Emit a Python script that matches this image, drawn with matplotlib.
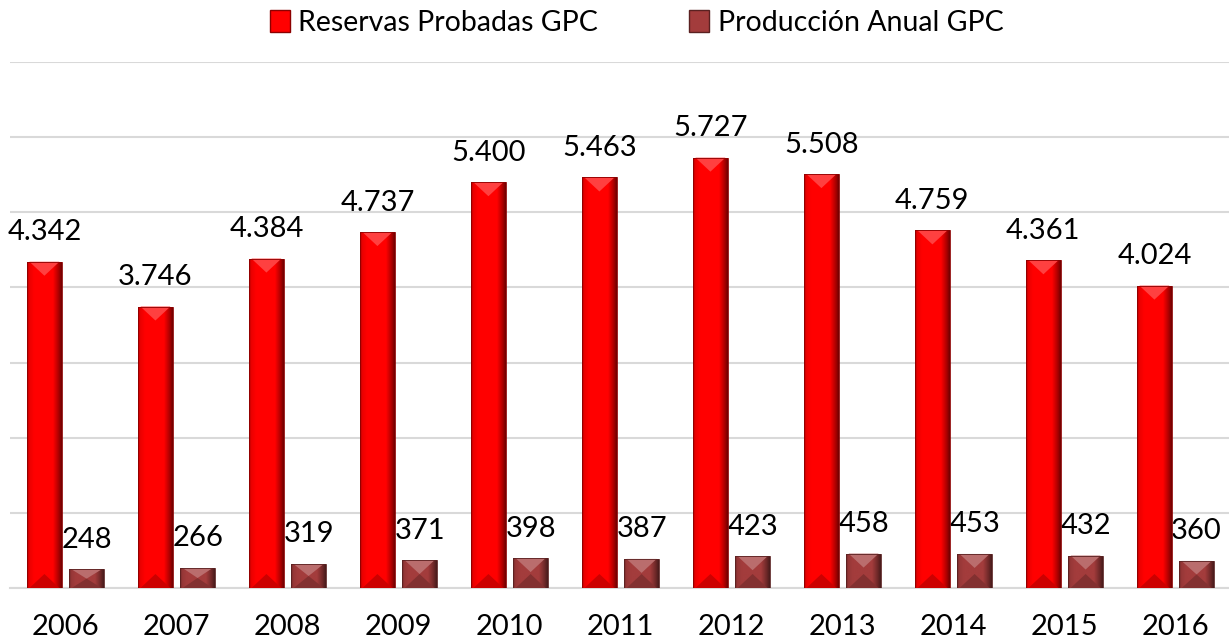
import numpy as np
import matplotlib.pyplot as plt
from matplotlib.patches import Polygon, Rectangle
from matplotlib.colors import to_rgb

years = ["2006", "2007", "2008", "2009", "2010", "2011", "2012", "2013", "2014", "2015", "2016"]
reservas = [4342, 3746, 4384, 4737, 5400, 5463, 5727, 5508, 4759, 4361, 4024]
produccion = [248, 266, 319, 371, 398, 387, 423, 458, 453, 432, 360]

plt.rcParams['font.family'] = ['Lato', 'DejaVu Sans']

fig = plt.figure(figsize=(12.29, 6.43), dpi=100)
ax = fig.add_axes([10 / 1229, 55 / 643, 1221 / 1229, 526 / 643])

x = np.arange(len(years))
width = 0.31
offset = 0.19
ymax = 7000

# pixel -> data conversion for the bevel depth
px_y = ymax / 526.0
bevel = 14 * px_y


def shade(c, f):
    c = np.array(to_rgb(c))
    if f >= 1:
        return tuple(c + (1 - c) * (f - 1))
    return tuple(c * f)


def bevel_bar(ax, xc, h, color):
    x0, x1 = xc - width / 2, xc + width / 2
    # horizontal shading: darker edges, darkest on the right
    cols = np.linspace(0, 1, 60)
    prof = np.interp(cols, [0, 0.06, 0.2, 0.75, 0.9, 1.0], [0.7, 0.92, 1.0, 1.0, 0.7, 0.45])
    base = np.array(to_rgb(color))
    img = np.clip(base[None, None, :] * prof[None, :, None], 0, 1)
    im = ax.imshow(img, extent=[x0, x1, 0, h], aspect='auto', zorder=3, interpolation='bilinear')
    clip = Rectangle((x0, 0), width, h, transform=ax.transData)
    im.set_clip_path(clip)
    d = min(bevel, h / 2)
    # top bevel lighter, bottom bevel darker
    ax.add_patch(Polygon([[x0 + 0.02, h], [x1 - 0.02, h], [xc, h - d]], closed=True,
                         facecolor=shade(color, 1.25), edgecolor='none', zorder=4))
    ax.add_patch(Polygon([[x0 + 0.02, 0], [x1 - 0.02, 0], [xc, d]], closed=True,
                         facecolor=shade(color, 0.8), edgecolor='none', zorder=4))
    ax.add_patch(Rectangle((x0, 0), width, h, facecolor='none',
                           edgecolor=shade(color, 0.55), linewidth=0.6, zorder=5))


red = '#FF0000'
brown = '#A33C3C'
for i in range(len(years)):
    bevel_bar(ax, x[i] - offset, reservas[i], red)
    bevel_bar(ax, x[i] + offset, produccion[i], brown)
    ax.text(x[i] - offset, reservas[i] + 220, f"{reservas[i] / 1000:.3f}",
            ha='center', va='bottom', fontsize=21)
    ax.text(x[i] + offset, produccion[i] + 220, f"{produccion[i]}",
            ha='center', va='bottom', fontsize=21)

ax.set_xlim(-0.5, len(years) - 0.5)
ax.set_ylim(0, ymax)
ax.set_yticks(np.arange(0, ymax + 1, 1000))
ax.set_yticklabels([])
ax.set_xticks(x)
ax.set_xticklabels(years, fontsize=21)
ax.tick_params(axis='both', length=0)
ax.tick_params(axis='x', pad=19)
ax.grid(axis='y', color='#D9D9D9', linewidth=1.5, zorder=0)
ax.set_axisbelow(True)
for s in ['top', 'left', 'right']:
    ax.spines[s].set_visible(False)
ax.spines['bottom'].set_color('#D9D9D9')
ax.spines['bottom'].set_linewidth(1.5)

# legend
handles = [Rectangle((0, 0), 1, 1, facecolor=red, edgecolor=shade(red, 0.55)),
           Rectangle((0, 0), 1, 1, facecolor=brown, edgecolor=shade(brown, 0.55))]
fig.legend(handles, ["Reservas Probadas GPC", "Producción Anual GPC"],
           loc='center', bbox_to_anchor=(0.518, 1 - 23 / 643), ncol=2, frameon=False,
           fontsize=20.5, handlelength=0.7, handleheight=0.8, handletextpad=0.3,
           columnspacing=3.2)

fig.savefig("out.png", dpi=100)
